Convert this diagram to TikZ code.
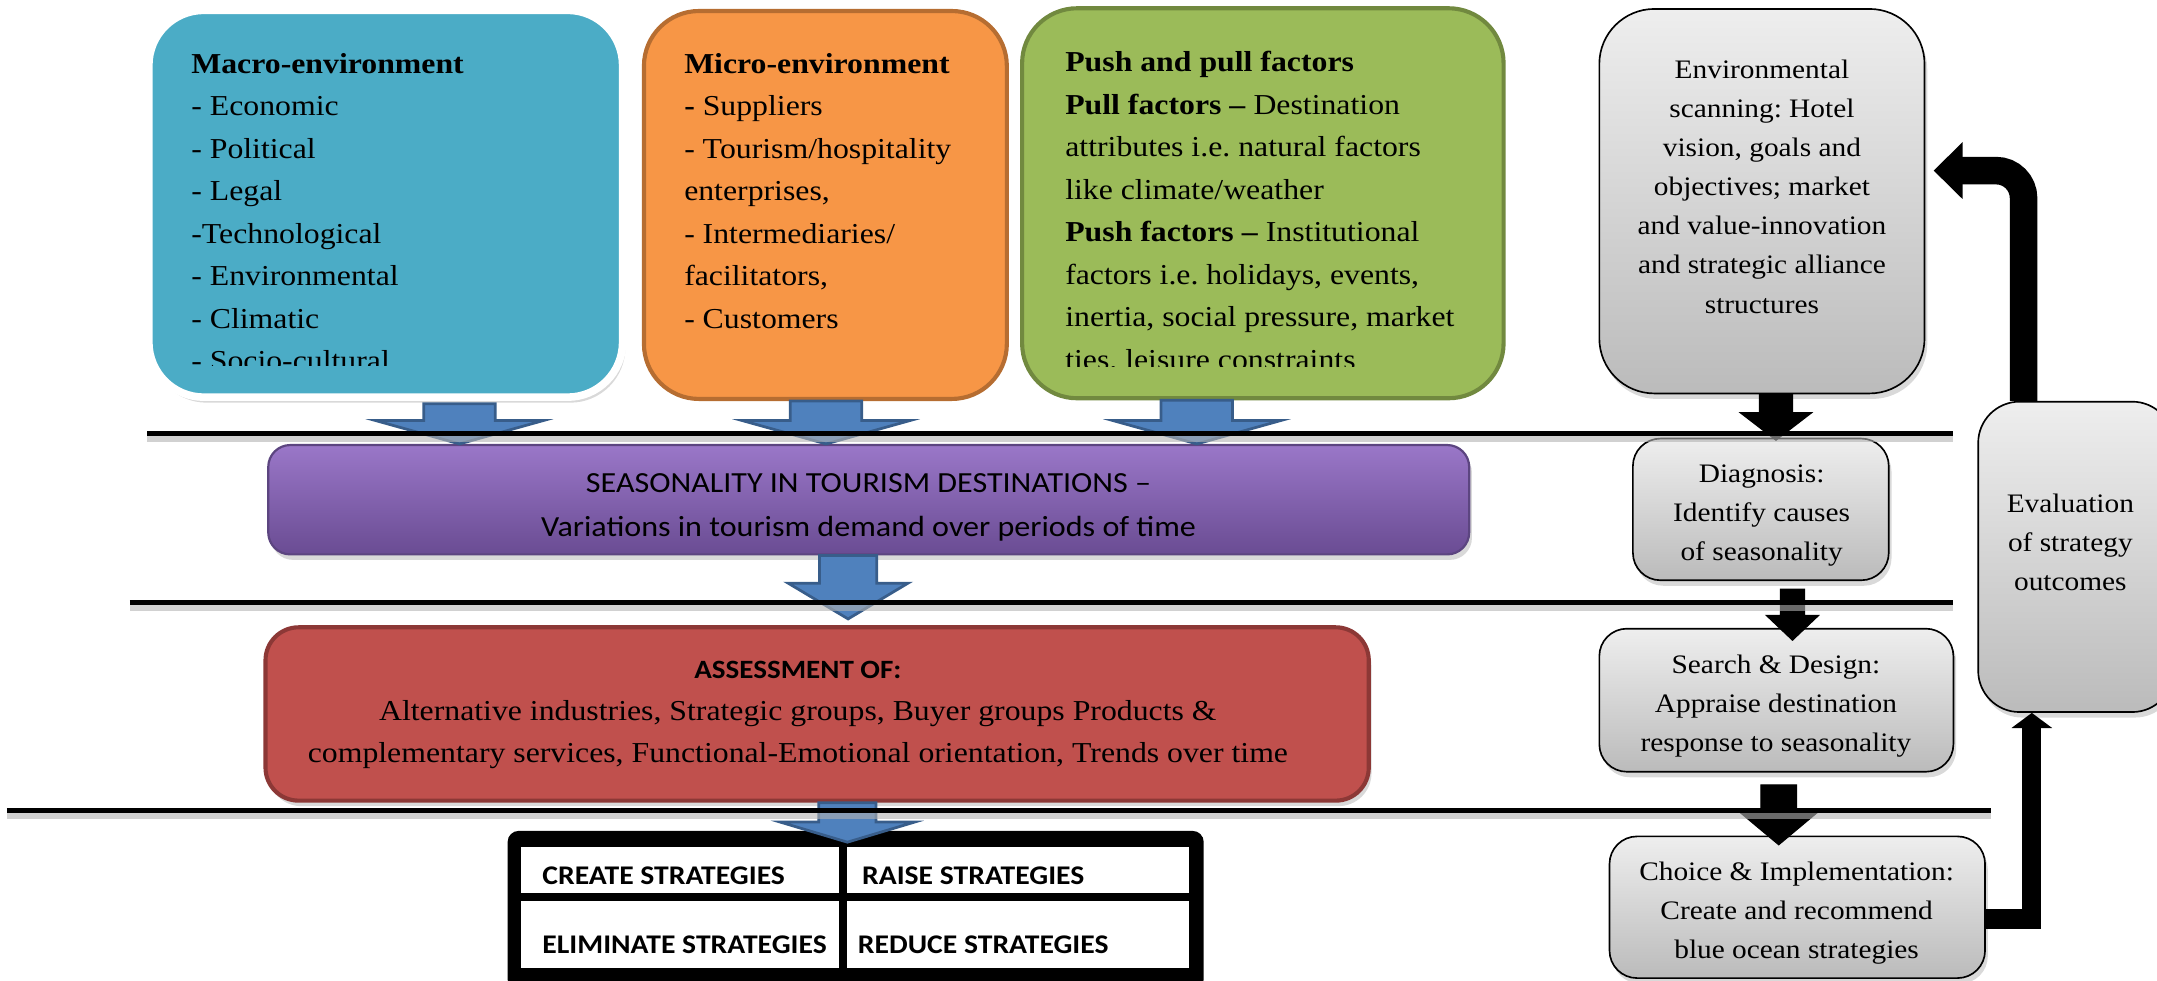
\documentclass[tikz,border=0pt]{standalone}
\usepackage{fontspec}
\setmainfont{Liberation Serif}[FakeStretch=1.1]
\newfontfamily\calfont{Carlito}[FakeStretch=1.1,Ligatures=TeX]
\usetikzlibrary{calc,shadows,arrows.meta}

\definecolor{macroblue}{HTML}{4BACC6}
\definecolor{microorange}{HTML}{F79646}
\definecolor{microedge}{HTML}{B66D31}
\definecolor{pushgreen}{HTML}{9BBB59}
\definecolor{pushedge}{HTML}{71893F}
\definecolor{seastop}{HTML}{9A77C8}
\definecolor{seasbot}{HTML}{6A4C93}
\definecolor{seasedge}{HTML}{5C4580}
\definecolor{assessred}{HTML}{C0504D}
\definecolor{assessedge}{HTML}{8C3836}
\definecolor{arrowblue}{HTML}{4F81BD}
\definecolor{arrowedge}{HTML}{385D8A}
\definecolor{graytop}{HTML}{EEEEEE}
\definecolor{graybot}{HTML}{BBBBBB}

% block arrow pointing down: [style]{from}{tip}{shaft half}{head half}{head length}
\newcommand\blockarrow[6][]{%
  \filldraw[#1] let \p1=(#2), \p2=(#3) in
    (\x1-#4,\y1) -- (\x1+#4,\y1) -- (\x1+#4,\y2+#6) -- (\x1+#5,\y2+#6)
    -- (\x1,\y2) -- (\x1-#5,\y2+#6) -- (\x1-#4,\y2+#6) -- cycle;}

\begin{document}
\frenchspacing
\begin{tikzpicture}[x=0.5pt,y=-0.5pt,
    factortext/.style={anchor=north west,align=left,inner sep=0pt,font=\fontsize{10.5}{15.45}\selectfont},
    softshadow/.style={drop shadow={opacity=.3,shadow xshift=1pt,shadow yshift=-2pt}},
    graybox/.style={draw=black,line width=0.6pt,top color=graytop,bottom color=graybot,rounded corners=10pt,softshadow},
    graytext/.style={align=center,inner sep=0pt,font=\fontsize{9.7}{14.2}\selectfont},
    bluearrow/.style={fill=arrowblue,draw=arrowedge,line width=1pt},
    blackarrow/.style={fill=black,draw=black,line width=0.4pt},
    separator/.style={line width=1.8pt},
    sepshadow/.style={line width=2.5pt,black!30,opacity=.6},
    cell/.style={fill=white,inner sep=0pt},
    celltext/.style={anchor=base west,inner sep=0pt,font=\calfont\bfseries\fontsize{9.8}{11}\selectfont},
    feedback/.style={draw=black}]
\useasboundingbox (0,0) rectangle (1568,713);
\clip (0,0) rectangle (1568,713);

% forces acting on the destination
\node[draw=white,line width=2.75pt,fill=macroblue,rounded corners=20pt,minimum width=172.2pt,minimum height=140.6pt,softshadow] (macro) at (280.4,148.1) {};
\node[draw=microedge,line width=1.5pt,fill=microorange,rounded corners=20pt,minimum width=131.9pt,minimum height=141pt] (micro) at (600,149) {};
\node[draw=pushedge,line width=1.5pt,fill=pushgreen,rounded corners=20pt,minimum width=175pt,minimum height=141.75pt] (push) at (918,147.75) {};

\begin{scope}
  \clip (100,0) rectangle (460,265.5);
  \node[factortext] (macrotext) at (138.7,38.3) {\textbf{Macro-environment}\\
    - Economic\\ - Political\\ - Legal\\ -Technological\\ - Environmental\\ - Climatic\\ - Socio-cultural};
\end{scope}
\node[factortext] (microtext) at (497,38.3) {\textbf{Micro-environment}\\
  \textbf{-} Suppliers\\ - Tourism/hospitality\\ enterprises,\\ - Intermediaries/\\ facilitators,\\ - Customers};
\begin{scope}
  \clip (740,0) rectangle (1100,266.5);
  \node[factortext] (pushtext) at (774,37) {\textbf{Push and pull factors}\\
    \textbf{Pull factors --} Destination\\ attributes i.e. natural factors\\ like climate/weather\\
    \textbf{Push factors --} Institutional\\ factors i.e. holidays, events,\\ inertia, social pressure, market\\ ties. leisure constraints};
\end{scope}

% main flow
\node[top color=seastop,bottom color=seasbot,draw=seasedge,line width=0.8pt,rounded corners=8pt,minimum width=436.5pt,minimum height=39.75pt,softshadow] (seas) at (631.5,363.25) {};
\node[align=center,inner sep=0pt,font=\calfont\fontsize{10.6}{16.2}\selectfont] (seastext) at (631.4,368.7) {SEASONALITY IN TOURISM DESTINATIONS –\\ Variations in tourism demand over periods of time};

\node[fill=assessred,draw=assessedge,line width=1.5pt,rounded corners=12pt,minimum width=401pt,minimum height=63pt,softshadow] (assess) at (594,519) {};
\node[align=center,inner sep=0pt,font=\fontsize{10.5}{15.2}\selectfont] (assesstext) at (580,519.9) {{\calfont\bfseries\fontsize{9.6}{10}\selectfont ASSESSMENT OF:}\\
  Alternative industries, Strategic groups, Buyer groups Products \&\\
  complementary services, Functional-Emotional orientation, Trends over time};

% four actions grid
\node[fill=black,rounded corners=4pt,minimum width=253pt,minimum height=58pt,inner sep=0pt] (frame) at (622,662) {};
\node[cell,minimum width=115.5pt,minimum height=16.5pt] (create) at (494.5,632.5) {};
\node[cell,minimum width=124pt,minimum height=16.5pt] (raise) at (740,632.5) {};
\node[cell,minimum width=115.5pt,minimum height=24.5pt] (eliminate) at (494.5,679.5) {};
\node[cell,minimum width=124pt,minimum height=24.5pt] (reduce) at (740,679.5) {};
\node[celltext] (createtext) at ($(create.north west)+(15.3,27.2)$) {CREATE STRATEGIES};
\node[celltext] (raisetext) at ($(raise.north west)+(10.7,27.2)$) {RAISE STRATEGIES};
\node[celltext] (eliminatetext) at ($(eliminate.north west)+(15.3,38.4)$) {ELIMINATE STRATEGIES};
\node[celltext] (reducetext) at ($(reduce.north west)+(7.7,38.4)$) {REDUCE STRATEGIES};

% strategy process
\node[graybox,rounded corners=20pt,minimum width=118.2pt,minimum height=139.75pt] (env) at (1280.8,146.25) {};
\node[graytext] (envtext) at (1280.8,135.7) {Environmental\\ scanning: Hotel\\ vision, goals and\\ objectives; market\\ and value-innovation\\ and strategic alliance\\ structures};
\node[graybox,minimum width=93pt,minimum height=51.5pt] (diag) at (1280,370.3) {};
\node[graytext] (diagtext) at (1280.6,374.5) {Diagnosis:\\ Identify causes\\ of seasonality};
\node[graybox,minimum width=128.7pt,minimum height=52pt] (search) at (1291.3,509) {};
\node[graytext] (searchtext) at (1291,513) {Search \& Design:\\ Appraise destination\\ response to seasonality};
\node[graybox,minimum width=136.5pt,minimum height=51.5pt] (choice) at (1306.5,659.5) {};
\node[graytext] (choicetext) at (1306,663.5) {Choice \& Implementation:\\ Create and recommend\\ blue ocean strategies};
\node[graybox,rounded corners=15pt,minimum width=71pt,minimum height=112.8pt] (eval) at (1509,404.8) {};
\node[graytext] (evaltext) at (1505,394) {Evaluation\\ of strategy\\ outcomes};

% blue arrows
\coordinate (b1) at ($(macro.south)+(53.6,2)$);
\coordinate (b2) at ($(micro.south)+(0.5,0)$);
\coordinate (b3) at ($(push.south)+(-48,0)$);
\coordinate (b4) at ($(seas.south)+(-15,0)$);
\coordinate (b5) at ($(assess.south)+(22,0)$);
\blockarrow[bluearrow]{b1}{b1 |- seas.north}{13pt}{30.5pt}{8.5pt}
\blockarrow[bluearrow]{b2}{b2 |- seas.north}{13pt}{30.5pt}{8.5pt}
\blockarrow[bluearrow]{b3}{b3 |- seas.north}{13pt}{30.5pt}{8.5pt}
\blockarrow[bluearrow]{b4}{$(b4 |- assess.north)+(0,-4.6)$}{10.4pt}{21.8pt}{13pt}
\blockarrow[bluearrow]{b5}{$(b5 |- frame.north)+(0,8.6)$}{10.4pt}{24.4pt}{7.3pt}

% black arrows
\coordinate (k1) at ($(env.south)+(10.2,0)$);
\coordinate (k2) at ($(diag.south)+(23,5.8)$);
\coordinate (k3) at ($(search.south)+(1.7,9)$);
\blockarrow[blackarrow]{k1}{$(k1 |- diag.north)+(0,1.8)$}{6pt}{13pt}{10pt}
\blockarrow[blackarrow]{k2}{$(k2 |- search.north)+(0,9)$}{4.4pt}{9.5pt}{9pt}
\blockarrow[blackarrow]{k3}{$(k3 |- choice.north)+(0,6.7)$}{6.5pt}{13.75pt}{11.5pt}

% feedback loop
\draw[feedback,line width=7pt,-{Triangle[width=14.5pt,length=5.5pt]}] ([yshift=-4.25pt]choice.east) -| ($(eval.south)+(-32,0)$);
\draw[feedback,line width=10pt,rounded corners=10pt,-{Triangle[width=20pt,length=10.5pt]}] ($(eval.north)+(-38,0)$) |- ($(env.east)+(6,-22.25)$);

% separators
\draw[sepshadow] (107,319) -- (1420,319);
\draw[sepshadow] (94.5,442) -- (1420,442);
\draw[sepshadow] (5,593) -- (1447.5,593);
\draw[separator] (107,314.8) -- (1420,314.8);
\draw[separator] (94.5,438) -- (1420,438);
\draw[separator] (5,589) -- (1447.5,589);
\end{tikzpicture}
\end{document}
